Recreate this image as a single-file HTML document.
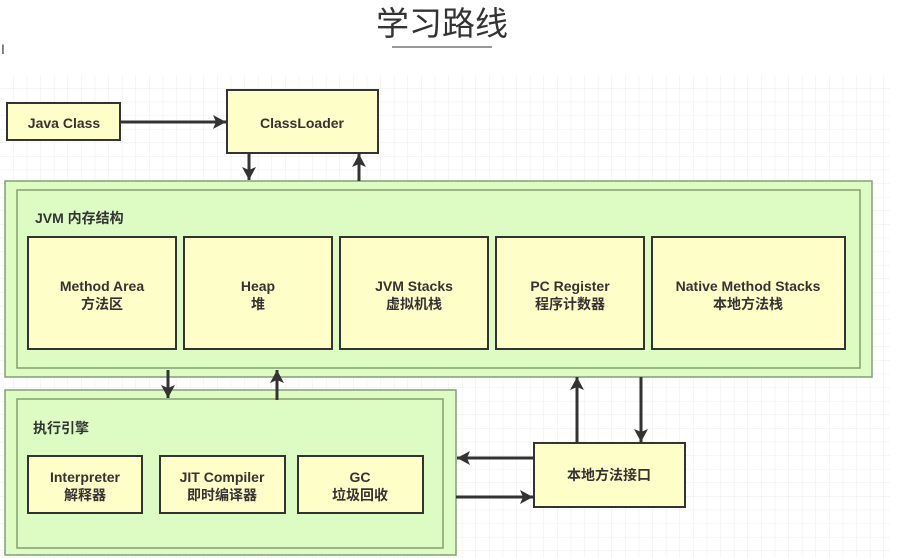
<!DOCTYPE html>
<html><head><meta charset="utf-8"><style>
html,body{margin:0;padding:0;background:#fff;}
svg{display:block}
text{font-family:"Liberation Sans","Noto Sans CJK SC",sans-serif;font-weight:bold;fill:#333;font-size:14px;}
</style></head><body>
<svg width="924" height="558" viewBox="0 0 924 558" xmlns="http://www.w3.org/2000/svg">
<defs>
<pattern id="g" width="13.6" height="13.6" patternUnits="userSpaceOnUse" x="0" y="75">
<path d="M13.6 0V13.6M0 13.6H13.6" stroke="#ebebeb" stroke-width="1" fill="none"/>
</pattern>
<marker id="a" markerWidth="14" markerHeight="14" refX="13" refY="7" orient="auto" markerUnits="userSpaceOnUse">
<path d="M0,0 L13,7 L0,14 L3,7 Z" fill="#333"/></marker>
</defs>
<rect x="0" y="75" width="890" height="483" fill="url(#g)"/>
<text x="442" y="35" text-anchor="middle" style="font-weight:normal;font-size:33px;fill:#333">学习路线</text>
<line x1="392" y1="47" x2="492" y2="47" stroke="#333" stroke-width="1"/>
<text x="1" y="54" style="font-weight:normal;font-size:14px;fill:#444">I</text>
<g stroke="#333" stroke-width="2" fill="#fefec8">
<rect x="7" y="103" width="113" height="37"/>
<rect x="227" y="90" width="151" height="63"/>
</g>
<rect x="5" y="181" width="867" height="196" fill="#dcfcc4" stroke="#82a070" stroke-width="1.5"/>
<rect x="17" y="190" width="843" height="178" fill="none" stroke="#82a070" stroke-width="1.5"/>
<rect x="5" y="390" width="451" height="165" fill="#dcfcc4" stroke="#82a070" stroke-width="1.5"/>
<rect x="17" y="399" width="426" height="149" fill="none" stroke="#82a070" stroke-width="1.5"/>
<g stroke="#333" stroke-width="2" fill="#fefec8">
<rect x="28" y="237" width="148" height="112"/>
<rect x="184" y="237" width="148" height="112"/>
<rect x="340" y="237" width="148" height="112"/>
<rect x="496" y="237" width="148" height="112"/>
<rect x="652" y="237" width="193" height="112"/>
<rect x="28" y="456" width="114" height="57"/>
<rect x="160" y="456" width="125" height="57"/>
<rect x="298" y="456" width="125" height="57"/>
<rect x="534" y="443" width="151" height="64"/>
</g>
<g stroke="#333" stroke-width="3" marker-end="url(#a)">
<line x1="120" y1="122" x2="226" y2="122"/>
<line x1="249" y1="153" x2="249" y2="180"/>
<line x1="359" y1="181" x2="359" y2="154"/>
<line x1="168" y1="370" x2="168" y2="398"/>
<line x1="277" y1="400" x2="277" y2="370"/>
<line x1="577" y1="443" x2="577" y2="377"/>
<line x1="641" y1="377" x2="641" y2="442"/>
<line x1="534" y1="458" x2="457" y2="458"/>
<line x1="456" y1="497" x2="533" y2="497"/>
</g>
<text x="64" y="128" text-anchor="middle">Java Class</text>
<text x="302" y="128" text-anchor="middle">ClassLoader</text>
<text x="35" y="223">JVM 内存结构</text>
<text x="102" y="291" text-anchor="middle">Method Area</text>
<text x="102" y="309" text-anchor="middle">方法区</text>
<text x="258" y="291" text-anchor="middle">Heap</text>
<text x="258" y="309" text-anchor="middle">堆</text>
<text x="414" y="291" text-anchor="middle">JVM Stacks</text>
<text x="414" y="309" text-anchor="middle">虚拟机栈</text>
<text x="570" y="291" text-anchor="middle">PC Register</text>
<text x="570" y="309" text-anchor="middle">程序计数器</text>
<text x="748" y="291" text-anchor="middle">Native Method Stacks</text>
<text x="748" y="309" text-anchor="middle">本地方法栈</text>
<text x="33" y="433">执行引擎</text>
<text x="85" y="482" text-anchor="middle">Interpreter</text>
<text x="85" y="500" text-anchor="middle">解释器</text>
<text x="222" y="482" text-anchor="middle">JIT Compiler</text>
<text x="222" y="500" text-anchor="middle">即时编译器</text>
<text x="360" y="482" text-anchor="middle">GC</text>
<text x="360" y="500" text-anchor="middle">垃圾回收</text>
<text x="609" y="480" text-anchor="middle">本地方法接口</text>
</svg>
</body></html>
